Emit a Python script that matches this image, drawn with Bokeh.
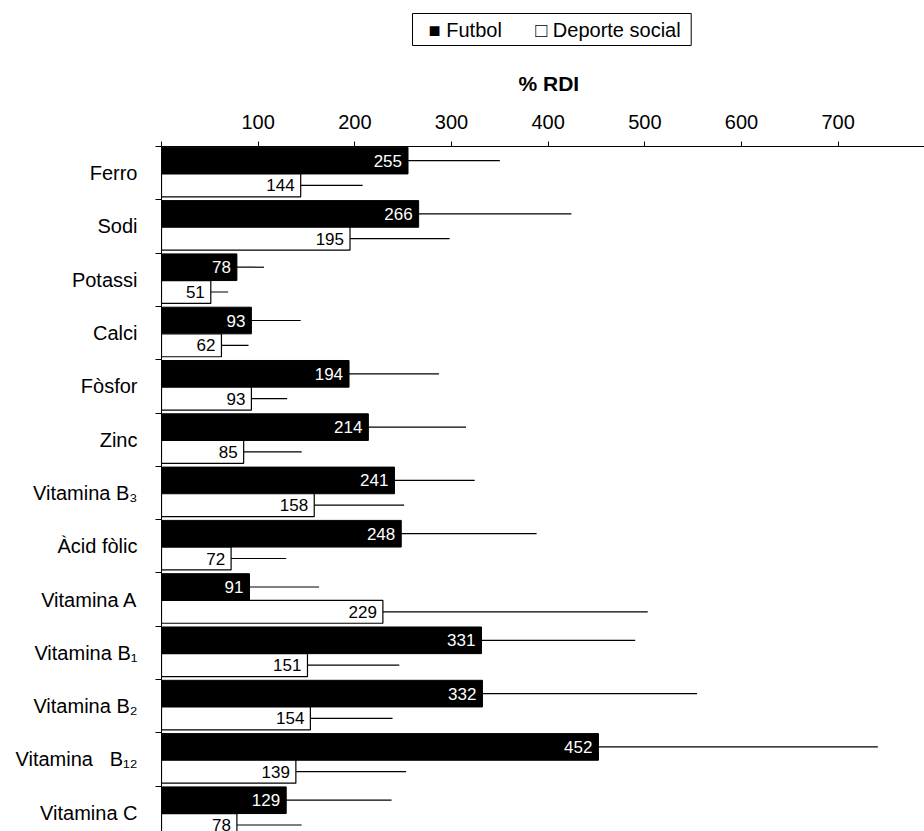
from bokeh.plotting import figure
from bokeh.models import (ColumnDataSource, Range1d, FixedTicker, LabelSet, Title)
from bokeh.core.properties import value
from bokeh.embed import file_html
from bokeh.resources import INLINE

# ---------------- data ----------------
categories = ["Ferro", "Sodi", "Potassi", "Calci", "Fòsfor", "Zinc", "Vitamina B₃",
              "Àcid fòlic", "Vitamina A", "Vitamina B₁", "Vitamina B₂",
              "Vitamina\u00a0\u00a0\u00a0B₁₂", "Vitamina C"]
futbol = [255, 266, 78, 93, 194, 214, 241, 248, 91, 331, 332, 452, 129]
futbol_sd = [95, 158, 28, 51, 93, 101, 83, 140, 72, 159, 222, 289, 109]
social = [144, 195, 51, 62, 93, 85, 158, 72, 229, 151, 154, 139, 78]
social_sd = [64, 103, 18, 28, 37, 60, 93, 57, 274, 95, 85, 114, 67]
x_ticks = [0, 100, 200, 300, 400, 500, 600, 700, 800]
x_tick_labels = ["", "100", "200", "300", "400", "500", "600", "700", "800"]
series_names = ["Futbol", "Deporte social"]
axis_title = "% RDI"

# ---------------- layout ----------------
FONT = "Liberation Sans"
W, H = 924, 831
LEFT, TOP = 161, 146
FRAME_W, FRAME_H = W - LEFT, H - TOP
PPU = 0.9667            # pixels per % RDI
CAT_PX = 53.3           # pixels per category
X_END = FRAME_W / PPU
y_end = FRAME_H / CAT_PX
n = len(categories)

p = figure(frame_width=FRAME_W, frame_height=FRAME_H, output_backend="svg",
           toolbar_location=None, x_axis_location="above", title=None,
           x_range=Range1d(0, X_END), y_range=Range1d(y_end, 0),
           min_border_left=LEFT, min_border_right=0, min_border_bottom=0,
           min_border_top=TOP)
p.outline_line_color = None
p.grid.visible = False
p.background_fill_color = "white"
p.border_fill_color = "white"

# x axis (top)
xa = p.xaxis[0]
xa.ticker = FixedTicker(ticks=x_ticks)
xa.major_label_overrides = {t: l for t, l in zip(x_ticks, x_tick_labels)}
xa.major_tick_out = 5
xa.major_tick_in = 0
xa.minor_tick_out = 0
xa.minor_tick_in = 0
xa.axis_line_color = "black"
xa.major_tick_line_color = "black"
xa.major_label_text_font = FONT
xa.major_label_text_font_size = "20px"
xa.major_label_text_color = "black"
xa.major_label_standoff = 13

# y axis (left): labels at category centres, tick marks (minor) at boundaries
centers = [i + 0.5 for i in range(n)]
ya = p.yaxis[0]
ya.ticker = FixedTicker(ticks=centers, minor_ticks=list(range(n + 1)))
ya.major_label_overrides = {c: lbl for c, lbl in zip(centers, categories)}
ya.major_tick_out = 0
ya.major_tick_in = 0
ya.minor_tick_out = 6
ya.minor_tick_in = 0
ya.axis_line_color = "black"
ya.minor_tick_line_color = "black"
ya.major_label_text_font = FONT
ya.major_label_text_font_size = "20px"
ya.major_label_text_color = "black"
ya.major_label_standoff = 18

# ---------------- bars ----------------
f_y = [i + 0.265 for i in range(n)]
s_y = [i + 0.73 for i in range(n)]
src = ColumnDataSource(dict(
    f_y=f_y, s_y=s_y,
    futbol=futbol, social=social,
    f_hi=[v + s for v, s in zip(futbol, futbol_sd)],
    s_hi=[v + s for v, s in zip(social, social_sd)],
    f_lbl=[str(v) for v in futbol],
    s_lbl=[str(v) for v in social],
))

rf = p.hbar(y="f_y", left=0, right="futbol", height=0.5, fill_color="black",
            line_color="black", line_width=1, source=src)
rs = p.hbar(y="s_y", left=0, right="social", height=0.43, fill_color="white",
            line_color="black", line_width=1.2, source=src)
p.segment(x0="futbol", y0="f_y", x1="f_hi", y1="f_y", line_color="black",
          line_width=1.2, source=src)
p.segment(x0="social", y0="s_y", x1="s_hi", y1="s_y", line_color="black",
          line_width=1.2, source=src)

p.add_layout(LabelSet(x="futbol", y="f_y", text="f_lbl", source=src, x_offset=-6,
                      text_align="right", text_baseline="middle", text_color="white",
                      text_font=value(FONT), text_font_size="17px"))
p.add_layout(LabelSet(x="social", y="s_y", text="s_lbl", source=src, x_offset=-6,
                      text_align="right", text_baseline="middle", text_color="black",
                      text_font=value(FONT), text_font_size="17px"))

# ---------------- title & legend ----------------
t = Title(text=axis_title, text_font=FONT, text_font_size="21px",
          text_font_style="bold", align="left", offset=357, standoff=34,
          text_color="black")
p.add_layout(t, "above")

NB = "\u00a0"
legend_text = (NB * 2 + "■ " + series_names[0] + NB * 6 + "□ " + series_names[1] + NB)
key = Title(text=legend_text, text_font=FONT, text_font_size="20px",
            text_font_style="normal", align="left", offset=251, standoff=14,
            text_color="black", padding=5, border_line_color="black",
            border_line_width=1, background_fill_color="white")
p.add_layout(key, "above")

open("out.html", "w").write(file_html(p, INLINE))
